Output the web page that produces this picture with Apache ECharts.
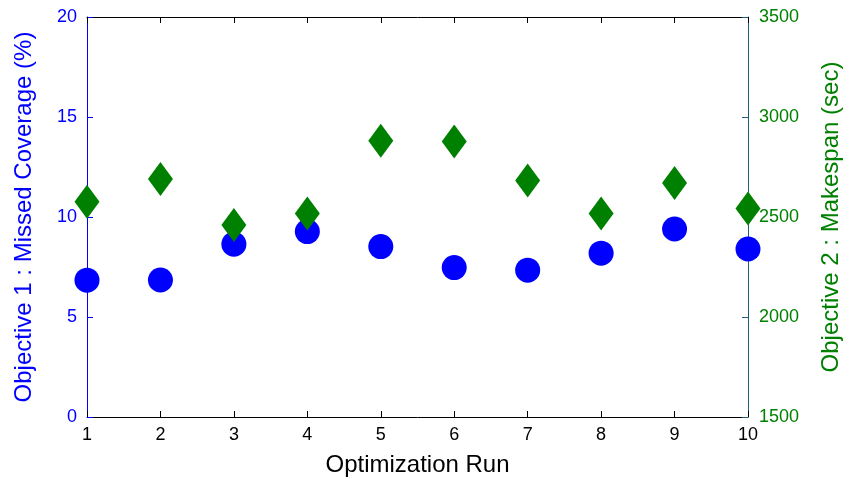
<!DOCTYPE html>
<html>
<head>
<meta charset="utf-8">
<script src="https://cdn.jsdelivr.net/npm/echarts@6/dist/echarts.min.js"></script>
<style>
  html, body { margin: 0; padding: 0; background: #fff; }
  #main { width: 853px; height: 479px; }
</style>
</head>
<body>
<div id="main"></div>
<script>
var runs = [1, 2, 3, 4, 5, 6, 7, 8, 9, 10];
var missedCoverage = [6.84, 6.85, 8.64, 9.27, 8.52, 7.47, 7.34, 8.19, 9.4, 8.4];
var makespan = [2576, 2690, 2460, 2518, 2881, 2878, 2683, 2518, 2670, 2543];

var myChart = echarts.init(document.getElementById('main'));

var font = 'Liberation Sans, Arial, sans-serif';

option = {
    animation: false,
    grid: {
        left: 87,
        right: 105,
        top: 17,
        bottom: 62,
        containLabel: false,
        outerBoundsMode: 'none'
    },
    xAxis: [{
        type: 'value',
        min: 1,
        max: 10,
        interval: 1,
        name: 'Optimization Run',
        nameLocation: 'middle',
        nameGap: 36,
        nameTextStyle: { color: '#000', fontSize: 24, fontFamily: font },
        axisLine: { show: true, lineStyle: { color: '#000', width: 1 } },
        axisTick: { show: true, inside: true, length: 6, lineStyle: { color: '#000' } },
        axisLabel: { color: '#000', fontSize: 18, fontFamily: font, margin: 9 },
        splitLine: { show: false }
    }, {
        // top border
        type: 'value',
        position: 'top',
        min: 1,
        max: 10,
        interval: 1,
        axisLine: { show: true, onZero: false, lineStyle: { color: '#000', width: 1 } },
        axisTick: { show: true, inside: true, length: 6, lineStyle: { color: '#000' } },
        axisLabel: { show: false },
        splitLine: { show: false }
    }],
    yAxis: [{
        type: 'value',
        position: 'left',
        min: 0,
        max: 20,
        interval: 5,
        name: 'Objective 1 : Missed Coverage (%)',
        nameLocation: 'middle',
        nameGap: 51,
        nameTextStyle: { color: '#0000ff', fontSize: 24, fontFamily: font },
        axisLine: { show: true, lineStyle: { color: '#0000ff', width: 1 } },
        axisTick: { show: true, inside: true, length: 6, lineStyle: { color: '#0000ff' } },
        axisLabel: { color: '#0000ff', fontSize: 18, fontFamily: font, margin: 10 },
        splitLine: { show: false }
    }, {
        type: 'value',
        position: 'right',
        min: 1500,
        max: 3500,
        interval: 500,
        name: 'Objective 2 : Makespan (sec)',
        nameLocation: 'middle',
        nameGap: 71,
        nameTextStyle: { color: '#008000', fontSize: 24, fontFamily: font },
        axisLine: { show: true, lineStyle: { color: '#1f5f7a', width: 1 } },
        axisTick: { show: true, inside: true, length: 6, lineStyle: { color: '#1f5f7a' } },
        axisLabel: {
            color: '#008000', fontSize: 18, fontFamily: font, margin: 11,
            formatter: function (v) { return String(v); }
        },
        splitLine: { show: false }
    }],
    series: [{
        name: 'Missed Coverage',
        type: 'scatter',
        yAxisIndex: 0,
        symbol: 'circle',
        symbolSize: 25,
        itemStyle: { color: '#0000ff', opacity: 1 },
        data: runs.map(function (r, i) { return [r, missedCoverage[i]]; }),
        z: 2
    }, {
        name: 'Makespan',
        type: 'scatter',
        yAxisIndex: 1,
        symbol: 'diamond',
        symbolSize: [25, 34],
        itemStyle: { color: '#008000', opacity: 1 },
        data: runs.map(function (r, i) { return [r, makespan[i]]; }),
        z: 3
    }]
};

myChart.setOption(option);
window.addEventListener("resize", function () {
    myChart.resize();
});
</script>
</body>
</html>
